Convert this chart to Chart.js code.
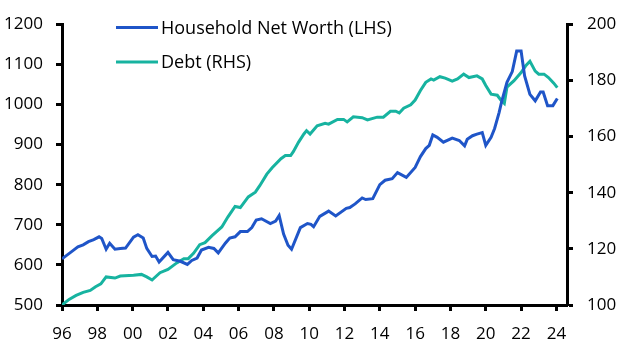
<!DOCTYPE html>
<html>
<head>
<meta charset="utf-8">
<script src="https://cdn.jsdelivr.net/npm/chart.js@4"></script>
<style>
  html, body { margin: 0; padding: 0; background: #fff; }
  #wrap { position: relative; width: 629px; height: 354px; }
  canvas { display: block; }
</style>
</head>
<body>
<div id="wrap"><canvas id="c" width="629" height="354"></canvas></div>
<script>
// ---- Data ----
const netWorthYears = [1996.0,1996.3,1996.6,1996.9,1997.2,1997.5,1997.8,1998.1,1998.25,1998.5,1998.7,1999.0,1999.3,1999.6,2000.05,2000.3,2000.6,2000.8,2001.1,2001.3,2001.5,2002.0,2002.3,2002.7,2003.1,2003.35,2003.65,2003.9,2004.3,2004.6,2004.85,2005.25,2005.5,2005.8,2006.1,2006.5,2006.75,2007.0,2007.3,2007.8,2008.1,2008.3,2008.55,2008.8,2009.0,2009.5,2009.9,2010.1,2010.25,2010.6,2011.1,2011.5,2012.1,2012.3,2012.6,2013.0,2013.2,2013.6,2014.0,2014.3,2014.7,2015.0,2015.5,2016.0,2016.3,2016.6,2016.8,2017.0,2017.25,2017.6,2018.1,2018.5,2018.8,2018.95,2019.25,2019.5,2019.8,2020.0,2020.3,2020.5,2020.75,2020.9,2021.2,2021.5,2021.75,2022.0,2022.2,2022.5,2022.8,2023.1,2023.25,2023.5,2023.8,2024.05];
const netWorthValues = [615,625,635,645,650,658,663,670,666,639,654,639,641,642,669,675,667,641,621,622,607,631,613,609,601,611,617,637,644,641,630,654,667,670,683,683,693,712,715,703,709,723,677,649,639,693,703,701,695,721,734,722,741,743,752,767,763,765,800,811,815,830,818,843,870,890,898,924,918,906,916,910,897,913,922,926,930,898,918,940,979,1007,1055,1082,1133,1133,1071,1025,1009,1031,1031,997,997,1015];

const debtYears = [1996.0,1996.4,1996.8,1997.2,1997.6,1997.9,1998.2,1998.5,1999.0,1999.3,2000.05,2000.5,2000.8,2001.1,2001.55,2002.0,2002.5,2002.9,2003.15,2003.45,2003.8,2004.1,2004.5,2004.8,2005.05,2005.4,2005.8,2006.1,2006.55,2006.95,2007.2,2007.6,2007.9,2008.4,2008.65,2008.95,2009.1,2009.4,2009.7,2009.85,2010.05,2010.45,2010.9,2011.1,2011.6,2011.95,2012.15,2012.5,2013.0,2013.3,2013.85,2014.2,2014.6,2014.9,2015.1,2015.35,2015.75,2016.0,2016.3,2016.6,2016.9,2017.05,2017.4,2017.7,2018.1,2018.4,2018.75,2019.05,2019.5,2019.8,2020.0,2020.3,2020.65,2020.85,2021.05,2021.2,2021.6,2022.0,2022.25,2022.5,2022.8,2023.0,2023.3,2023.55,2023.85,2024.05];
const debtValues = [100,102,103.4,104.5,105.2,106.5,107.5,110,109.6,110.3,110.6,110.9,110,108.9,111.5,112.7,115,116.5,116.5,118.4,121.5,122.2,124.7,126.4,127.8,131.4,135.1,134.7,138.5,140.2,142.5,146.6,148.9,152.1,153.2,153.2,154.6,158,160.9,162.1,160.9,163.8,164.7,164.4,166.1,166.1,165.2,167,166.7,165.9,166.9,166.9,169,169,168.4,170.1,171.3,173,176.4,179.3,180.5,180.1,181.3,180.8,179.7,180.5,182.2,181,181.6,180.5,178.2,175.1,174.7,173,171.8,177.6,179.9,182.8,185.1,186.8,183.3,182.2,182.2,181,179,177.4];

const xTickYears = [1996,1998,2000,2002,2004,2006,2008,2010,2012,2014,2016,2018,2020,2022,2024];
const leftTicks = [500,600,700,800,900,1000,1100,1200];
const rightTicks = [100,120,140,160,180,200];
const seriesLabels = ['Household Net Worth (LHS)', 'Debt (RHS)'];

// ---- Styles ----
const BLUE = '#1f55c8';
const GREEN = '#17b3a0';
const FONT = '"Open Sans", "Noto Sans", sans-serif';

function pts(xs, ys) { return xs.map((x, i) => ({ x: x, y: ys[i] })); }

const legendPlugin = {
  id: 'insideLegend',
  afterDatasetsDraw(chart) {
    const ctx = chart.ctx;
    const ds = chart.data.datasets;
    const rows = [27.5, 62];
    ctx.save();
    ds.forEach((d, i) => {
      const y = rows[i];
      ctx.strokeStyle = d.borderColor;
      ctx.lineWidth = 3;
      ctx.beginPath();
      ctx.moveTo(116, y);
      ctx.lineTo(158, y);
      ctx.stroke();
      ctx.fillStyle = '#000';
      ctx.font = '18px ' + FONT;
      ctx.textBaseline = 'middle';
      ctx.textAlign = 'left';
      ctx.fillText(d.label, 161, y + 1);
    });
    ctx.restore();
  }
};

new Chart(document.getElementById('c'), {
  type: 'line',
  data: {
    datasets: [
      { label: seriesLabels[0], data: pts(netWorthYears, netWorthValues), yAxisID: 'yL',
        borderColor: BLUE, borderWidth: 3, pointRadius: 0, tension: 0, fill: false },
      { label: seriesLabels[1], data: pts(debtYears, debtValues), yAxisID: 'yR',
        borderColor: GREEN, borderWidth: 3, pointRadius: 0, tension: 0, fill: false }
    ]
  },
  options: {
    responsive: false,
    animation: false,
    devicePixelRatio: 1,
    layout: { padding: { top: 15, left: 0, right: 0, bottom: 0 } },
    plugins: { legend: { display: false }, tooltip: { enabled: false } },
    scales: {
      x: {
        type: 'linear',
        min: 1996, max: 2024.6,
        afterBuildTicks: s => { s.ticks = xTickYears.map(v => ({ value: v })); },
        afterFit: s => { s.height = 49; },
        border: { display: true, color: '#000', width: 3 },
        grid: { display: true, drawOnChartArea: false, drawTicks: true, tickLength: 6, tickWidth: 3, tickColor: '#000' },
        ticks: { color: '#000', font: { family: FONT, size: 17 }, padding: 13, maxRotation: 0, autoSkip: false,
          callback: v => String(v % 100).padStart(2, '0') }
      },
      yL: {
        type: 'linear', position: 'left',
        min: 500, max: 1200,
        afterBuildTicks: s => { s.ticks = leftTicks.map(v => ({ value: v })); },
        afterFit: s => { s.width = 62; },
        border: { display: true, color: '#000', width: 3 },
        grid: { display: true, drawOnChartArea: false, drawTicks: true, tickLength: 6, tickWidth: 3, tickColor: '#000' },
        ticks: { color: '#000', font: { family: FONT, size: 17 }, padding: 13, callback: v => String(v) }
      },
      yR: {
        type: 'linear', position: 'right',
        min: 100, max: 200,
        afterBuildTicks: s => { s.ticks = rightTicks.map(v => ({ value: v })); },
        afterFit: s => { s.width = 62; },
        border: { display: true, color: '#000', width: 3 },
        grid: { display: true, drawOnChartArea: false, drawTicks: true, tickLength: 6, tickWidth: 3, tickColor: '#000' },
        ticks: { color: '#000', font: { family: FONT, size: 17 }, padding: 14, callback: v => String(v) }
      }
    }
  },
  plugins: [legendPlugin]
});
</script>
</body>
</html>
